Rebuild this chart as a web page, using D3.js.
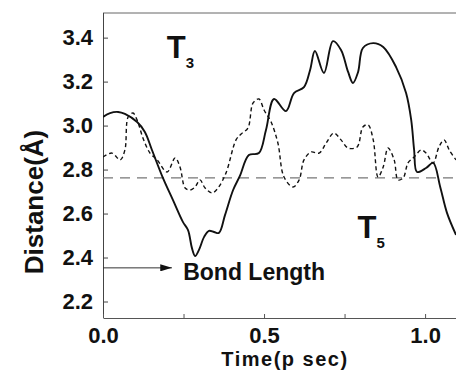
<!DOCTYPE html>
<html>
<head>
<meta charset="utf-8">
<script src="https://cdn.jsdelivr.net/npm/d3@7"></script>
<style>
  body { margin: 0; background: #fff; }
  svg { display: block; font-family: "Liberation Sans", Arial, Helvetica, sans-serif; }
</style>
</head>
<body>
<svg id="chart" width="456" height="378"></svg>
<script>
// data
let solidTime = [0, 0.022, 0.047, 0.068, 0.106, 0.130, 0.152, 0.186, 0.217, 0.248, 0.264, 0.276, 0.286, 0.298,
  0.314, 0.329, 0.345, 0.360, 0.379, 0.404, 0.425, 0.453, 0.484, 0.506, 0.531, 0.568, 0.593, 0.624, 0.643,
  0.658, 0.686, 0.714, 0.739, 0.761, 0.776, 0.792, 0.807, 0.839, 0.870, 0.910, 0.941, 0.957, 0.966, 0.975,
  1.003, 1.025, 1.047, 1.068, 1.096];
let solidDist = [3.039, 3.057, 3.062, 3.053, 3.016, 2.971, 2.889, 2.762, 2.662, 2.562, 2.525, 2.444, 2.407, 2.435,
  2.494, 2.521, 2.516, 2.512, 2.594, 2.707, 2.771, 2.866, 2.875, 2.980, 3.121, 3.066, 3.148, 3.175, 3.253,
  3.339, 3.239, 3.384, 3.344, 3.244, 3.194, 3.244, 3.353, 3.375, 3.357, 3.266, 3.148, 3.025, 2.889, 2.789,
  2.807, 2.830, 2.721, 2.603, 2.503];

let dashTime = [0, 0.028, 0.053, 0.068, 0.078, 0.093, 0.106, 0.124, 0.146, 0.168, 0.199, 0.224, 0.239, 0.255,
  0.270, 0.286, 0.301, 0.317, 0.339, 0.357, 0.382, 0.413, 0.429, 0.450, 0.466, 0.484, 0.500, 0.522, 0.543,
  0.562, 0.590, 0.609, 0.624, 0.646, 0.671, 0.693, 0.717, 0.739, 0.761, 0.789, 0.807, 0.823, 0.839, 0.854,
  0.870, 0.885, 0.904, 0.916, 0.932, 0.947, 0.966, 0.988, 1.003, 1.025, 1.043, 1.059, 1.075, 1.096];
let dashDist = [2.857, 2.875, 2.844, 2.889, 3.039, 3.057, 3.025, 2.944, 2.875, 2.844, 2.789, 2.853, 2.812, 2.716,
  2.707, 2.721, 2.753, 2.716, 2.694, 2.716, 2.785, 2.935, 2.962, 2.989, 3.103, 3.121, 3.071, 3.016, 2.921,
  2.766, 2.721, 2.753, 2.844, 2.880, 2.875, 2.921, 2.966, 2.935, 2.898, 2.903, 2.994, 3.003, 2.935, 2.766,
  2.812, 2.898, 2.844, 2.753, 2.762, 2.830, 2.857, 2.889, 2.875, 2.830, 2.903, 2.935, 2.889, 2.844];

let yTicks = [2.2, 2.4, 2.6, 2.8, 3.0, 3.2, 3.4];
let xTicks = [0, 0.25, 0.5, 0.75, 1.0];
let xLabels = ["0.0", "", "0.5", "", "1.0"];
let refLine = 2.762;
let bondLength = 2.353;

let chart = d3.select("#chart");
let plotLeft = 103, plotTop = 13, plotRight = 456, plotBottom = 318;

// position scales
let x = d3.scaleLinear().domain([0, 1.096]).range([plotLeft, plotRight]);
let y = d3.scaleLinear().domain([2.125, 3.512]).range([plotBottom, plotTop]);

// frame: top border
chart.append("line")
  .attr("x1", plotLeft).attr("x2", plotRight)
  .attr("y1", plotTop).attr("y2", plotTop)
  .attr("stroke", "#666").attr("stroke-width", 1);

// y axis
let yAxis = chart.append("g")
  .attr("transform", "translate(" + plotLeft + ",0)")
  .call(d3.axisLeft(y).tickValues(yTicks).tickFormat(d3.format(".1f"))
    .tickSizeInner(-5).tickSizeOuter(0).tickPadding(10));
yAxis.select(".domain").attr("stroke", "#444").attr("d", "M0.5," + plotTop + "V" + plotBottom);
yAxis.selectAll(".tick line").attr("stroke", "#444");
yAxis.selectAll("text")
  .attr("font-size", "22px").attr("font-weight", "bold").attr("fill", "#111");

// x axis
let xAxis = chart.append("g")
  .attr("transform", "translate(0," + plotBottom + ")")
  .call(d3.axisBottom(x).tickValues(xTicks).tickFormat(function(d, i){ return xLabels[i]; })
    .tickSizeInner(-4).tickSizeOuter(0).tickPadding(9));
xAxis.select(".domain").attr("stroke", "#555");
xAxis.selectAll(".tick line").attr("stroke", "#555");
xAxis.selectAll("text")
  .attr("font-size", "22px").attr("font-weight", "bold").attr("fill", "#111");

// reference line
chart.append("line")
  .attr("x1", x(0)).attr("x2", plotRight)
  .attr("y1", y(refLine)).attr("y2", y(refLine))
  .attr("stroke", "#777").attr("stroke-width", 1.1)
  .attr("stroke-dasharray", "10,7");

// curves
chart.append("clipPath").attr("id", "plot-clip")
  .append("rect").attr("x", plotLeft).attr("y", plotTop)
  .attr("width", plotRight - plotLeft).attr("height", plotBottom - plotTop);

let line = d3.line()
  .x(function(d){ return x(d[0]); })
  .y(function(d){ return y(d[1]); })
  .curve(d3.curveCatmullRom.alpha(0.5));

chart.append("path")
  .datum(d3.zip(dashTime, dashDist))
  .attr("clip-path", "url(#plot-clip)")
  .attr("fill", "none").attr("stroke", "#111")
  .attr("stroke-width", 1.4).attr("stroke-dasharray", "4,3")
  .attr("d", line);

chart.append("path")
  .datum(d3.zip(solidTime, solidDist))
  .attr("clip-path", "url(#plot-clip)")
  .attr("fill", "none").attr("stroke", "#111")
  .attr("stroke-width", 1.9)
  .attr("d", line);

// bond length arrow
chart.append("defs").append("marker")
  .attr("id", "arrow").attr("viewBox", "0 0 10 6")
  .attr("refX", 10).attr("refY", 3)
  .attr("markerWidth", 16).attr("markerHeight", 7)
  .attr("markerUnits", "userSpaceOnUse")
  .attr("orient", "auto")
  .append("path").attr("d", "M0,0L10,3L0,6Z").attr("fill", "#111");

chart.append("line")
  .attr("x1", x(0)).attr("x2", x(0.214))
  .attr("y1", y(bondLength)).attr("y2", y(bondLength))
  .attr("stroke", "#333").attr("stroke-width", 1)
  .attr("marker-end", "url(#arrow)");

chart.append("text")
  .attr("x", x(0.249)).attr("y", y(bondLength) + 12)
  .attr("font-size", "23px").attr("font-weight", "bold").attr("fill", "#111")
  .text("Bond Length");

// curve labels
function label(tx, ty, sub){
  let t = chart.append("text")
    .attr("x", tx).attr("y", ty)
    .attr("font-weight", "bold").attr("fill", "#111");
  t.append("tspan").attr("font-size", "31px").text("T");
  t.append("tspan").attr("font-size", "15px").attr("dx", 0).attr("dy", 10).text(sub);
}
label(x(0.198), 58, "3");
label(x(0.790), 238, "5");

// axis titles
chart.append("text")
  .attr("x", 285).attr("y", 366)
  .attr("text-anchor", "middle")
  .attr("font-size", "20px").attr("font-weight", "bold").attr("fill", "#111")
  .attr("letter-spacing", "1.5px")
  .text("Time(p sec)");

chart.append("text")
  .attr("transform", "translate(43,202) rotate(-90)")
  .attr("text-anchor", "middle")
  .attr("font-size", "26px").attr("font-weight", "bold").attr("fill", "#111")
  .text("Distance(Å)");
</script>
</body>
</html>
